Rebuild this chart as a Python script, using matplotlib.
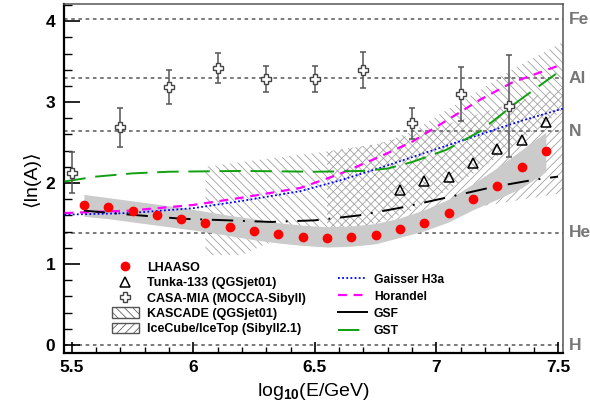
import numpy as np
import matplotlib
matplotlib.use('Agg')
import matplotlib.pyplot as plt
from matplotlib.lines import Line2D
from matplotlib.patches import Patch
from matplotlib.ticker import MultipleLocator

plt.rcParams['font.family'] = ['Liberation Sans', 'DejaVu Sans']
plt.rcParams['font.weight'] = 'bold'
plt.rcParams['mathtext.fontset'] = 'custom'
plt.rcParams['mathtext.rm'] = 'Liberation Sans:bold'
plt.rcParams['mathtext.bf'] = 'Liberation Sans:bold'
plt.rcParams['mathtext.default'] = 'bf'
plt.rcParams['hatch.linewidth'] = 0.55

# LHAASO mean ln(A) with systematic band
lhaaso_x = [5.55, 5.65, 5.75, 5.85, 5.95, 6.05, 6.15, 6.25, 6.35, 6.45,
            6.55, 6.65, 6.75, 6.85, 6.95, 7.05, 7.15, 7.25, 7.35, 7.45]
lhaaso_y = [1.73, 1.70, 1.65, 1.61, 1.56, 1.51, 1.46, 1.41, 1.37, 1.34,
            1.32, 1.33, 1.36, 1.43, 1.51, 1.63, 1.80, 1.97, 2.20, 2.39]
lhaaso_hi = [1.86, 1.82, 1.78, 1.74, 1.70, 1.65, 1.60, 1.56, 1.51, 1.48,
             1.46, 1.47, 1.50, 1.57, 1.67, 1.80, 1.99, 2.19, 2.41, 2.63]
lhaaso_lo = [1.59, 1.56, 1.52, 1.48, 1.44, 1.40, 1.35, 1.30, 1.26, 1.23,
             1.21, 1.22, 1.25, 1.33, 1.41, 1.52, 1.67, 1.80, 1.94, 2.14]

# Tunka-133 (QGSjet01)
tunka_x = [6.85, 6.95, 7.05, 7.15, 7.25, 7.35, 7.45]
tunka_y = [1.92, 2.02, 2.08, 2.25, 2.42, 2.53, 2.75]

# CASA-MIA (MOCCA-Sibyll)
casa_x = [5.50, 5.70, 5.90, 6.10, 6.30, 6.50, 6.70, 6.90, 7.10, 7.30]
casa_y = [2.13, 2.69, 3.19, 3.42, 3.28, 3.29, 3.40, 2.74, 3.10, 2.95]
casa_err = [0.25, 0.24, 0.21, 0.19, 0.16, 0.16, 0.22, 0.19, 0.33, 0.63]

# KASCADE (QGSjet01) band
kascade_x = [6.05, 6.20, 6.30, 6.55, 6.77, 6.91, 7.04, 7.18, 7.31, 7.52]
kascade_hi = [2.20, 2.26, 2.30, 2.39, 2.49, 2.65, 2.90, 3.15, 3.40, 3.74]
kascade_lo = [1.11, 1.11, 1.25, 1.37, 1.52, 1.67, 1.90, 2.17, 2.45, 2.90]

# IceCube/IceTop (Sibyll2.1) band
icetop_x = [6.55, 6.75, 7.00, 7.20, 7.52]
icetop_hi = [2.39, 2.48, 2.68, 2.88, 3.18]
icetop_lo = [1.30, 1.40, 1.58, 1.72, 1.88]

# model curves
h3a_x = [5.47, 5.74, 6.00, 6.20, 6.44, 6.60, 6.77, 7.00, 7.18, 7.35, 7.52]
h3a_y = [1.61, 1.63, 1.69, 1.78, 1.90, 2.03, 2.19, 2.42, 2.60, 2.77, 2.92]
hor_x = [5.47, 5.74, 6.00, 6.20, 6.44, 6.60, 6.77, 6.90, 7.04, 7.18, 7.31, 7.52]
hor_y = [1.63, 1.66, 1.73, 1.82, 1.94, 2.11, 2.33, 2.51, 2.77, 3.03, 3.24, 3.47]
gsf_x = [5.55, 5.74, 5.95, 6.14, 6.32, 6.50, 6.68, 6.86, 7.04, 7.23, 7.40, 7.50]
gsf_y = [1.66, 1.61, 1.56, 1.54, 1.52, 1.54, 1.60, 1.70, 1.82, 1.95, 2.04, 2.08]
gst_x = [5.47, 5.60, 5.75, 5.90, 6.20, 6.50, 6.70, 6.80, 6.90, 7.04, 7.18, 7.34, 7.52]
gst_y = [2.02, 2.08, 2.12, 2.14, 2.15, 2.14, 2.15, 2.18, 2.26, 2.41, 2.64, 3.02, 3.41]

# reference nuclei
nuclei = ['H', 'He', 'N', 'Al', 'Fe']
mass_number = [1, 4, 14, 27, 56]

fig = plt.figure(figsize=(5.9, 4.13), dpi=100)
ax = fig.add_axes([0.108, 0.145, 0.846, 0.845])

hatch_gray = '#9a9a9a'
ax.fill_between(kascade_x, kascade_lo, kascade_hi, facecolor='none',
                edgecolor=hatch_gray, hatch='\\\\\\\\', linewidth=0, zorder=1)
ax.fill_between(icetop_x, icetop_lo, icetop_hi, facecolor='none',
                edgecolor=hatch_gray, hatch='////', linewidth=0, zorder=1)
ax.fill_between(lhaaso_x, lhaaso_lo, lhaaso_hi, color='#cbcbcb',
                linewidth=0, zorder=2)

for A in mass_number:
    ax.axhline(np.log(A), color='#707070', lw=1.3, ls=(0, (2, 2)), zorder=1.5)

ax.plot(h3a_x, h3a_y, color='blue', lw=1.3, ls=(0, (1, 1.3)), zorder=3)
ax.plot(hor_x, hor_y, color='#ff00ff', lw=1.6, ls=(0, (4, 3)), zorder=3)
ax.plot(gsf_x, gsf_y, color='black', lw=1.4, ls=(0, (11, 5, 1, 5)), zorder=3)
ax.plot(gst_x, gst_y, color='#10a010', lw=1.4, ls=(0, (11, 5)), zorder=3)

ax.errorbar(casa_x, casa_y, yerr=casa_err, fmt='none', ecolor='#555555',
            elinewidth=1.1, capsize=2.5, capthick=1.1, zorder=4)
ax.plot(casa_x, casa_y, ls='none', marker='P', ms=7, mfc='white',
        mec='#444444', mew=1.0, zorder=5)
ax.plot(tunka_x, tunka_y, ls='none', marker='^', ms=7, mfc='none',
        mec='black', mew=1.1, zorder=5)
ax.plot(lhaaso_x, lhaaso_y, ls='none', marker='o', ms=6, color='red', zorder=6)

ax.set_xlim(5.467, 7.52)
ax.set_ylim(-0.1, 4.21)
ax.xaxis.set_major_locator(MultipleLocator(0.5))
ax.xaxis.set_minor_locator(MultipleLocator(0.1))
ax.yaxis.set_major_locator(MultipleLocator(1))
ax.yaxis.set_minor_locator(MultipleLocator(0.2))
ax.xaxis.set_major_formatter(matplotlib.ticker.FuncFormatter(lambda v, p: f'{v:g}'))
ax.tick_params(axis='x', which='major', direction='in', length=8, width=1.2,
               labelsize=12.5, pad=5)
ax.tick_params(axis='x', which='minor', direction='in', length=4, width=1.0)
ax.tick_params(axis='y', which='major', direction='in', length=11.5, width=1.2,
               labelsize=12.5, pad=6)
ax.tick_params(axis='y', which='minor', direction='in', length=5.7, width=1.0)

for side in ['left', 'bottom']:
    ax.spines[side].set_linewidth(1.6)
for side in ['top', 'right']:
    ax.spines[side].set_linewidth(1.1)
    ax.spines[side].set_color('#555555')

ax.set_xlabel('log$_{10}$(E/GeV)', fontsize=14, labelpad=4)
ax.set_ylabel('\u27e8ln(A)\u27e9', fontsize=14, labelpad=4)

for name, A in zip(nuclei, mass_number):
    ax.text(1.012, np.log(A), name, transform=ax.get_yaxis_transform(),
            ha='left', va='center', fontsize=12.5, color='#777777')

left_handles = [
    Line2D([], [], ls='none', marker='o', ms=6, color='red'),
    Line2D([], [], ls='none', marker='^', ms=7, mfc='none', mec='black', mew=1.1),
    Line2D([], [], ls='none', marker='P', ms=7, mfc='white', mec='#444444', mew=1.0),
    Patch(facecolor='white', edgecolor='#555555', hatch='\\\\\\\\', lw=1.0),
    Patch(facecolor='white', edgecolor='#555555', hatch='////', lw=1.0),
]
left_labels = ['LHAASO', 'Tunka-133 (QGSjet01)', 'CASA-MIA (MOCCA-Sibyll)',
               'KASCADE (QGSjet01)', 'IceCube/IceTop (Sibyll2.1)']
leg1 = ax.legend(left_handles, left_labels, loc='upper left',
                 bbox_to_anchor=(0.096, 0.262), frameon=False, fontsize=9,
                 handlelength=2.2, handleheight=0.9, handletextpad=0.6,
                 labelspacing=0.22, borderpad=0, borderaxespad=0)
ax.add_artist(leg1)

right_handles = [
    Line2D([], [], color='blue', lw=1.3, ls=(0, (1, 1.3))),
    Line2D([], [], color='#ff00ff', lw=1.6, ls=(0, (4, 3))),
    Line2D([], [], color='black', lw=1.4),
    Line2D([], [], color='#10a010', lw=1.4, ls=(0, (11, 5))),
]
right_labels = ['Gaisser H3a', 'Horandel', 'GSF', 'GST']
ax.legend(right_handles, right_labels, loc='upper left',
          bbox_to_anchor=(0.549, 0.228), frameon=False, fontsize=8.7,
          handlelength=2.4, handletextpad=0.6, labelspacing=0.42,
          borderpad=0, borderaxespad=0)

fig.savefig('out.png', dpi=100)
